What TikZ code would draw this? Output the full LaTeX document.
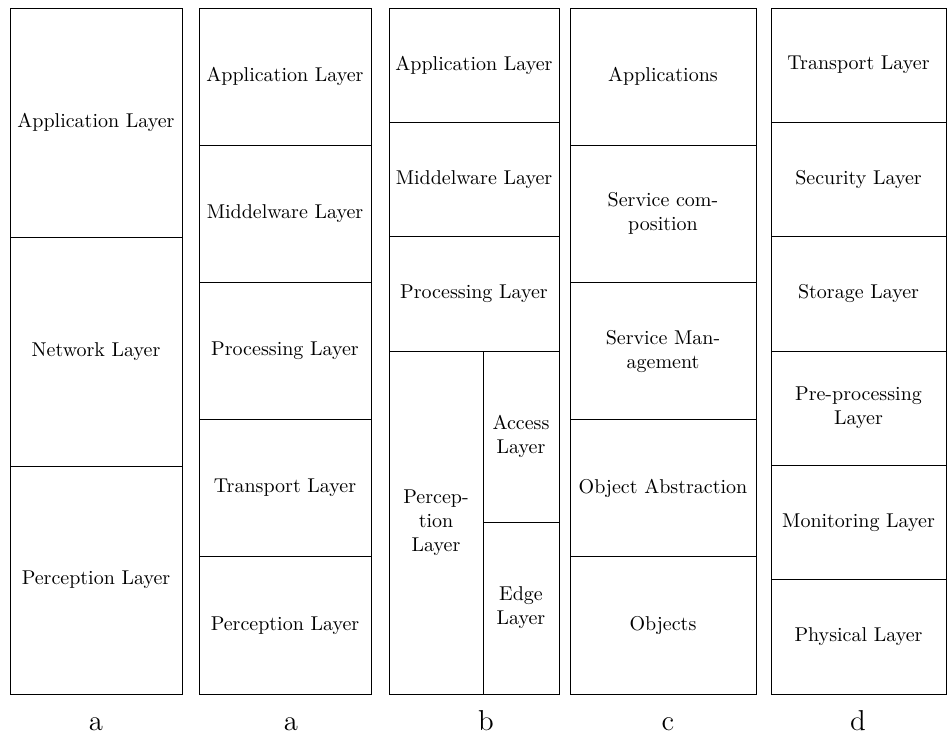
\documentclass[tikz,border=0pt]{standalone}
\begin{document}
\begin{tikzpicture}[x=0.5pt,y=-0.5pt,
  layer/.style={draw, line width=0.4pt, inner sep=0pt, align=center, font=\normalsize},
  captxt/.style={font=\Large, inner sep=0pt}]
\useasboundingbox (0,0) rectangle (947,736);
% column a
\node[layer, minimum width=86pt, minimum height=114.5pt] (a1) at (96,122.5) {Application Layer};
\node[layer, minimum width=86pt, minimum height=114.5pt] (a2) at (96,351.5) {Network Layer};
\node[layer, minimum width=86pt, minimum height=114pt] (a3) at (96,580) {Perception Layer};
% column a (second)
\node[layer, minimum width=86pt, minimum height=68.6pt] (p1) at (285,76.6) {Application Layer};
\node[layer, minimum width=86pt, minimum height=68.6pt] (p2) at (285,213.8) {Middelware Layer};
\node[layer, minimum width=86pt, minimum height=68.6pt] (p3) at (285,351) {Processing Layer};
\node[layer, minimum width=86pt, minimum height=68.6pt] (p4) at (285,488.2) {Transport Layer};
\node[layer, minimum width=86pt, minimum height=68.6pt] (p5) at (285,625.4) {Perception Layer};
% column b
\node[layer, minimum width=85pt, minimum height=57.17pt] (b1) at (474,65.2) {Application Layer};
\node[layer, minimum width=85pt, minimum height=57.17pt] (b2) at (474,179.5) {Middelware Layer};
\node[layer, minimum width=85pt, minimum height=57.17pt] (b3) at (474,293.8) {Processing Layer};
\node[layer, minimum width=47pt, minimum height=171.5pt] (b4) at (436,522.5) {Percep-\\tion\\Layer};
\node[layer, minimum width=38pt, minimum height=85.5pt] (b5) at (521,436.5) {Access\\Layer};
\node[layer, minimum width=38pt, minimum height=86pt] (b6) at (521,608) {Edge\\Layer};
% column c
\node[layer, minimum width=93pt, minimum height=68.6pt] (c1) at (663,76.6) {Applications};
\node[layer, minimum width=93pt, minimum height=68.6pt] (c2) at (663,213.8) {Service com-\\position};
\node[layer, minimum width=93pt, minimum height=68.6pt] (c3) at (663,351) {Service Man-\\agement};
\node[layer, minimum width=93pt, minimum height=68.6pt] (c4) at (663,488.2) {Object Abstraction};
\node[layer, minimum width=93pt, minimum height=68.6pt] (c5) at (663,625.4) {Objects};
% column d
\node[layer, minimum width=87.5pt, minimum height=57.17pt] (d1) at (858.5,65.2) {Transport Layer};
\node[layer, minimum width=87.5pt, minimum height=57.17pt] (d2) at (858.5,179.5) {Security Layer};
\node[layer, minimum width=87.5pt, minimum height=57.17pt] (d3) at (858.5,293.8) {Storage Layer};
\node[layer, minimum width=87.5pt, minimum height=57.17pt] (d4) at (858.5,408.2) {Pre-processing\\Layer};
\node[layer, minimum width=87.5pt, minimum height=57.17pt] (d5) at (858.5,522.5) {Monitoring Layer};
\node[layer, minimum width=87.5pt, minimum height=57.17pt] (d6) at (858.5,636.8) {Physical Layer};
% captions
\node[captxt, anchor=base] (la) at (96,730) {a};
\node[captxt, anchor=base] (lb) at (291,730) {a};
\node[captxt, anchor=base] (lc) at (486,730) {b};
\node[captxt, anchor=base] (ld) at (668,730) {c};
\node[captxt, anchor=base] (le) at (858,730) {d};
\end{tikzpicture}
\end{document}
